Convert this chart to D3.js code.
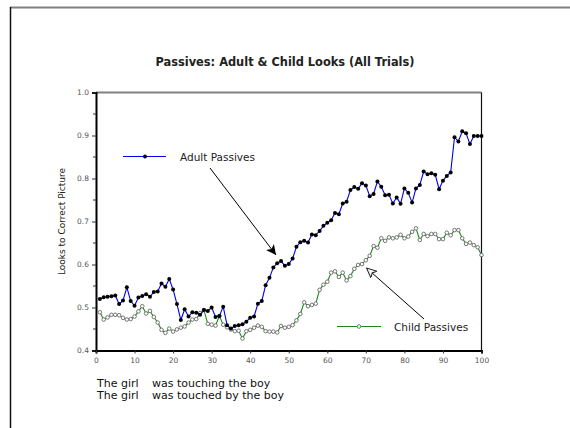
<!DOCTYPE html>
<html>
<head>
<meta charset="utf-8">
<script src="https://cdn.jsdelivr.net/npm/d3@7"></script>
<style>
  html, body { margin: 0; padding: 0; background: #fff; }
  svg { display: block; }
  text { font-family: "DejaVu Sans", Verdana, sans-serif; }
</style>
</head>
<body>
<svg id="chart" width="570" height="428"></svg>
<script>
// Trial index (1..100)
const trials = d3.range(1, 101);

// Proportion of looks to the correct picture, adult listeners
const adultLooks = [
  0.520, 0.524, 0.525, 0.526, 0.528, 0.508, 0.516, 0.547, 0.515, 0.504,
  0.523, 0.527, 0.531, 0.525, 0.536, 0.537, 0.556, 0.548, 0.566, 0.542,
  0.508, 0.471, 0.496, 0.479, 0.489, 0.488, 0.483, 0.494, 0.492, 0.500,
  0.478, 0.480, 0.502, 0.459, 0.451, 0.457, 0.459, 0.461, 0.467, 0.476,
  0.479, 0.509, 0.515, 0.552, 0.569, 0.593, 0.603, 0.608, 0.597, 0.601,
  0.614, 0.641, 0.652, 0.655, 0.651, 0.670, 0.668, 0.678, 0.690, 0.697,
  0.703, 0.720, 0.717, 0.742, 0.746, 0.773, 0.780, 0.776, 0.789, 0.784,
  0.759, 0.764, 0.793, 0.781, 0.761, 0.762, 0.742, 0.756, 0.741, 0.777,
  0.767, 0.744, 0.777, 0.785, 0.816, 0.810, 0.812, 0.809, 0.775, 0.795,
  0.806, 0.814, 0.896, 0.886, 0.910, 0.905, 0.880, 0.899, 0.899, 0.899
];

// Proportion of looks to the correct picture, child listeners
const childLooks = [
  0.489, 0.472, 0.477, 0.483, 0.483, 0.482, 0.476, 0.472, 0.473, 0.479,
  0.491, 0.503, 0.486, 0.492, 0.478, 0.465, 0.448, 0.441, 0.451, 0.444,
  0.449, 0.453, 0.456, 0.465, 0.472, 0.473, 0.487, 0.494, 0.462, 0.460,
  0.458, 0.480, 0.460, 0.454, 0.449, 0.445, 0.446, 0.428, 0.445, 0.448,
  0.453, 0.458, 0.455, 0.445, 0.444, 0.444, 0.442, 0.457, 0.453, 0.455,
  0.459, 0.470, 0.485, 0.512, 0.503, 0.506, 0.509, 0.541, 0.553, 0.560,
  0.581, 0.584, 0.571, 0.581, 0.563, 0.573, 0.590, 0.599, 0.601, 0.610,
  0.620, 0.643, 0.639, 0.661, 0.655, 0.663, 0.661, 0.663, 0.669, 0.661,
  0.665, 0.676, 0.684, 0.657, 0.671, 0.666, 0.671, 0.671, 0.659, 0.659,
  0.674, 0.668, 0.680, 0.680, 0.661, 0.648, 0.651, 0.645, 0.640, 0.622
];

// Axis tick values and labels
const xTicks = [0, 10, 20, 30, 40, 50, 60, 70, 80, 90, 100];
const yTicks = [0.4, 0.5, 0.6, 0.7, 0.8, 0.9, 1.0];
const yMinorTicks = [0.45, 0.55, 0.65, 0.75, 0.85, 0.95];

const chartTitle = "Passives: Adult & Child Looks (All Trials)";
const yTitle = "Looks to Correct Picture";
const adultName = "Adult Passives";
const childName = "Child Passives";
const sentenceSubjects = ["The girl", "The girl"];
const sentencePredicates = ["was touching the boy", "was touched by the boy"];

const svg = d3.select("#chart");

// Page frame: grey rule on top, black rule on the left
svg.append("line").attr("x1", 10).attr("x2", 570).attr("y1", 7.5).attr("y2", 7.5)
  .attr("stroke", "#808080").attr("stroke-width", 2);
svg.append("line").attr("x1", 10.5).attr("x2", 10.5).attr("y1", 7).attr("y2", 428)
  .attr("stroke", "#111").attr("stroke-width", 1.5);

const x = d3.scaleLinear().domain([0, 100]).range([96, 481.5]);
const y = d3.scaleLinear().domain([0.4, 1.0]).range([350.5, 92.5]);

// Title
svg.append("text")
  .attr("x", 285).attr("y", 66)
  .attr("text-anchor", "middle")
  .attr("font-size", 11.4)
  .attr("font-weight", "bold")
  .attr("fill", "#222")
  .text(chartTitle);

// Plot frame: grey top, black right
svg.append("line").attr("x1", x(0)).attr("x2", x(100)).attr("y1", y(1.0)).attr("y2", y(1.0))
  .attr("stroke", "#808080").attr("stroke-width", 2);
svg.append("line").attr("x1", x(100)).attr("x2", x(100)).attr("y1", y(1.0)).attr("y2", y(0.4))
  .attr("stroke", "#111").attr("stroke-width", 1.2);

// Y axis
const yAxis = d3.axisLeft(y).tickValues(yTicks).tickFormat(d3.format(".1f")).tickSize(4).tickPadding(3);
const gy = svg.append("g").attr("transform", `translate(${x(0)},0)`).call(yAxis);
gy.select(".domain").attr("stroke", "#000").attr("stroke-width", 2);
gy.selectAll(".tick line").attr("stroke", "#333");
gy.selectAll(".tick text").attr("font-size", 7.5).attr("fill", "#555")
  .style("font-family", '"DejaVu Sans", Verdana, sans-serif');
gy.append("g").selectAll("line").data(yMinorTicks).join("line")
  .attr("x1", -3).attr("x2", 0).attr("y1", d => y(d)).attr("y2", d => y(d))
  .attr("stroke", "#333");

// X axis
const xAxis = d3.axisBottom(x).tickValues(xTicks).tickFormat(d3.format("d")).tickSize(3).tickPadding(4);
const gx = svg.append("g").attr("transform", `translate(0,${y(0.4)})`).call(xAxis);
gx.select(".domain").attr("stroke", "#000").attr("stroke-width", 2);
gx.selectAll(".tick line").attr("stroke", "#333");
gx.selectAll(".tick text").attr("font-size", 7.5).attr("fill", "#555")
  .style("font-family", '"DejaVu Sans", Verdana, sans-serif');

// Y axis title
svg.append("text")
  .attr("transform", `translate(65,${(y(0.4) + y(1.0)) / 2}) rotate(-90)`)
  .attr("text-anchor", "middle")
  .attr("font-size", 9)
  .attr("fill", "#222")
  .text(yTitle);

const line = d3.line().x(d => x(d[0])).y(d => y(d[1]));
const adultPts = trials.map((t, i) => [t, adultLooks[i]]);
const childPts = trials.map((t, i) => [t, childLooks[i]]);

// Child series: green line, hollow grey markers
svg.append("path").datum(childPts).attr("d", line)
  .attr("fill", "none").attr("stroke", "#1a8a1a").attr("stroke-width", 1.1);
svg.append("g").selectAll("circle").data(childPts).join("circle")
  .attr("cx", d => x(d[0])).attr("cy", d => y(d[1])).attr("r", 1.8)
  .attr("fill", "#fff").attr("stroke", "#666").attr("stroke-width", 0.9);

// Adult series: blue line, filled black markers
svg.append("path").datum(adultPts).attr("d", line)
  .attr("fill", "none").attr("stroke", "#0000ee").attr("stroke-width", 1.1);
svg.append("g").selectAll("circle").data(adultPts).join("circle")
  .attr("cx", d => x(d[0])).attr("cy", d => y(d[1])).attr("r", 2)
  .attr("fill", "#000");

// Arrowheads
const defs = svg.append("defs");
defs.append("marker").attr("id", "headFilled")
  .attr("viewBox", "0 0 10 10").attr("refX", 10).attr("refY", 5)
  .attr("markerWidth", 10).attr("markerHeight", 10).attr("markerUnits", "userSpaceOnUse")
  .attr("orient", "auto")
  .append("path").attr("d", "M0,0 L10,5 L0,10 L2.5,5 Z").attr("fill", "#000");
defs.append("marker").attr("id", "headOpen")
  .attr("viewBox", "0 0 10 10").attr("refX", 10).attr("refY", 5)
  .attr("markerWidth", 10).attr("markerHeight", 10).attr("markerUnits", "userSpaceOnUse")
  .attr("orient", "auto")
  .append("path").attr("d", "M0,0.5 L10,5 L0,9.5 L2.5,5 Z")
  .attr("fill", "#fff").attr("stroke", "#222").attr("stroke-width", 1);

// Legend: adult
svg.append("line").attr("x1", 123).attr("x2", 166).attr("y1", 156.5).attr("y2", 156.5)
  .attr("stroke", "#0000ee").attr("stroke-width", 1.1);
svg.append("circle").attr("cx", 145).attr("cy", 156.5).attr("r", 2).attr("fill", "#000");
svg.append("text").attr("x", 180).attr("y", 161)
  .attr("font-size", 10.5).attr("fill", "#222").text(adultName);
svg.append("line").attr("x1", 210).attr("y1", 168).attr("x2", 276).attr("y2", 255)
  .attr("stroke", "#000").attr("stroke-width", 1).attr("marker-end", "url(#headFilled)");

// Legend: child
svg.append("line").attr("x1", 337).attr("x2", 381).attr("y1", 326.5).attr("y2", 326.5)
  .attr("stroke", "#1a8a1a").attr("stroke-width", 1.1);
svg.append("circle").attr("cx", 359).attr("cy", 326.5).attr("r", 1.8)
  .attr("fill", "#fff").attr("stroke", "#666").attr("stroke-width", 0.9);
svg.append("text").attr("x", 394).attr("y", 331)
  .attr("font-size", 10.5).attr("fill", "#222").text(childName);
svg.append("line").attr("x1", 424).attr("y1", 319).attr("x2", 366.5).attr("y2", 268)
  .attr("stroke", "#000").attr("stroke-width", 1).attr("marker-end", "url(#headOpen)");

// Example sentences under the axis
const sent = svg.append("g").attr("font-size", 11).attr("fill", "#111");
sentenceSubjects.forEach((s, i) => {
  sent.append("text").attr("x", 97).attr("y", 387 + i * 12).text(s);
  sent.append("text").attr("x", 152).attr("y", 387 + i * 12).text(sentencePredicates[i]);
});
</script>
</body>
</html>
